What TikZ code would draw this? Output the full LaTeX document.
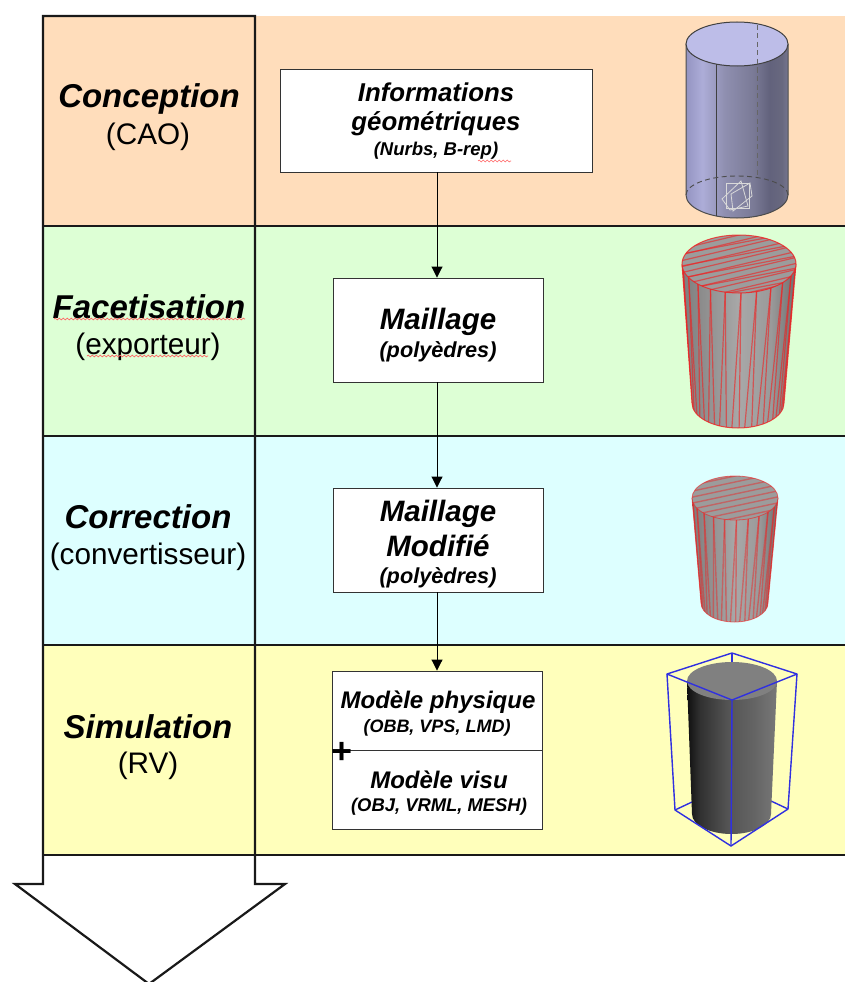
\documentclass[tikz,border=0pt]{standalone}
\usepackage{fontspec}
\setmainfont{Liberation Sans}
\usetikzlibrary{arrows.meta,decorations.pathmorphing}
\definecolor{bandA}{HTML}{FFDDBB}
\definecolor{bandB}{HTML}{DDFFD5}
\definecolor{bandC}{HTML}{DDFFFF}
\definecolor{bandD}{HTML}{FFFFBB}
\definecolor{meshred}{HTML}{F02020}
\definecolor{boxblue}{HTML}{3030E0}
\definecolor{topblue}{HTML}{BDBDE8}
\definecolor{topgrayA}{HTML}{9C9C9C}
\definecolor{topgrayB}{HTML}{9C9C9C}
\definecolor{topgrayC}{HTML}{808080}
\definecolor{ba}{HTML}{9494C2}\definecolor{bb}{HTML}{ADADD8}\definecolor{bc}{HTML}{8F8FB0}
\definecolor{bd}{HTML}{7A7A96}\definecolor{be}{HTML}{62627C}\definecolor{bf}{HTML}{68687F}\definecolor{bg}{HTML}{767690}
\definecolor{ga}{HTML}{7C7C7C}\definecolor{gb}{HTML}{8A8A8A}\definecolor{gc}{HTML}{A8A8A8}\definecolor{gd}{HTML}{9A9A9A}\definecolor{ge}{HTML}{6E6E6E}
\definecolor{da}{HTML}{0F0F0F}\definecolor{db}{HTML}{303030}\definecolor{dc}{HTML}{555555}\definecolor{dd}{HTML}{646464}\definecolor{de}{HTML}{787878}
\pgfdeclarehorizontalshading{cylblue}{100bp}{color(0bp)=(ba);color(25bp)=(ba);color(33bp)=(bb);color(44bp)=(bc);color(58bp)=(bd);color(66bp)=(be);color(72bp)=(bf);color(75bp)=(bg);color(100bp)=(bg)}
\pgfdeclarehorizontalshading{cylgray}{100bp}{color(0bp)=(ga);color(25bp)=(ga);color(32bp)=(gb);color(50bp)=(gc);color(64bp)=(gd);color(75bp)=(ge);color(100bp)=(ge)}
\pgfdeclarehorizontalshading{cyldark}{100bp}{color(0bp)=(da);color(25bp)=(da);color(32bp)=(db);color(48bp)=(dc);color(62bp)=(dd);color(75bp)=(de);color(100bp)=(de)}
\tikzset{
  x=1pt,y=-1pt,
  frameline/.style={draw=black!90,line width=2.2pt},
  stepbox/.style={draw=black!80,fill=white,line width=0.9pt,align=center,inner sep=0pt},
  flow/.style={draw=black,line width=0.9pt,-{Triangle[length=11pt,width=11pt]}},
  phase/.style={align=center,inner sep=0pt},
  squig/.style={draw=red!60,line width=0.7pt,decorate,decoration={snake,amplitude=0.9pt,segment length=4pt}},
  mesh/.style={draw=meshred,line width=1.2pt,opacity=0.6},
  meshb/.style={draw=meshred,line width=1.4pt,opacity=0.45},
}
\newcommand{\fsz}[1]{\fontsize{#1}{#1}\selectfont}
\begin{document}
\begin{tikzpicture}
\useasboundingbox (0,0) rectangle (845,982);
\fill[white] (0,0) rectangle (845,982);
% bands
\fill[bandA] (43,16) rectangle (845,226);
\fill[bandB] (43,226) rectangle (845,436);
\fill[bandC] (43,436) rectangle (845,645);
\fill[bandD] (43,645) rectangle (845,855);
% frame and big arrow
\draw[frameline,line join=miter] (255,884) -- (255,16) -- (43,16) -- (43,884) -- (15,884) -- (149,984) -- (285,884) -- cycle;
\foreach \yy in {226,436,645,855} \draw[frameline] (43,\yy) -- (845,\yy);
% phase labels
\node[phase] (p1a) at (149,99) {\fsz{33}\bfseries\itshape Conception};
\node[phase] (p1b) at (148,137) {\fsz{29.7}(CAO)};
\node[phase] (p2a) at (149,307) {\fsz{33}\bfseries\itshape Facetisation};
\node[phase] (p2b) at (148,347) {\fsz{29.7}(exporteur)};
\node[phase] (p3a) at (148,517) {\fsz{33}\bfseries\itshape Correction};
\node[phase] (p3b) at (148,557) {\fsz{29.7}(convertisseur)};
\node[phase] (p4a) at (148,727) {\fsz{33}\bfseries\itshape Simulation};
\node[phase] (p4b) at (148,766) {\fsz{29.7}(RV)};
\draw[squig] (54,319) -- (245,319);
\draw[squig] (87,356) -- (208,356);
% boxes
\node[stepbox,minimum width=312pt,minimum height=103pt] (s1) at (436,120.5) {};
\node[phase] (s1a) at (436,92) {\fsz{25.8}\bfseries\itshape Informations};
\node[phase] (s1b) at (436,124) {\fsz{25.8}\bfseries\itshape géométriques};
\node[phase] (s1c) at (436,151) {\fsz{18.5}\bfseries\itshape (Nurbs, B-rep)};
\draw[squig,line width=0.6pt] (478,161) -- (511,161);
\node[stepbox,minimum width=210pt,minimum height=104pt] (s2) at (438,330) {};
\node[phase] (s2a) at (438,322) {\fsz{29.5}\bfseries\itshape Maillage};
\node[phase] (s2b) at (438,352) {\fsz{21.7}\bfseries\itshape (polyèdres)};
\node[stepbox,minimum width=210pt,minimum height=104pt] (s3) at (438,540) {};
\node[phase] (s3a) at (438,514) {\fsz{29.5}\bfseries\itshape Maillage};
\node[phase] (s3b) at (438,546) {\fsz{29.5}\bfseries\itshape Modifié};
\node[phase] (s3c) at (438,578) {\fsz{21.7}\bfseries\itshape (polyèdres)};
\node[stepbox,minimum width=210pt,minimum height=79pt] (s4) at (437,710.5) {};
\node[stepbox,minimum width=210pt,minimum height=79pt] (s5) at (437,789.5) {};
\node[phase] (s4a) at (438,702) {\fsz{24}\bfseries\itshape Modèle physique};
\node[phase] (s4b) at (437,728) {\fsz{18}\bfseries\itshape (OBB, VPS, LMD)};
\node[phase] (s5a) at (439,780) {\fsz{24}\bfseries\itshape Modèle visu};
\node[phase] (s5b) at (439,807) {\fsz{18.4}\bfseries\itshape (OBJ, VRML, MESH)};
\node[inner sep=0pt] (plus) at (342,753) {\fsz{36}\bfseries +};
% connectors
\coordinate (ax) at (437,0);
\draw[flow] (s1.south -| ax) -- (s2.north -| ax);
\draw[flow] (s2.south -| ax) -- (s3.north -| ax);
\draw[flow] (s3.south -| ax) -- (s4.north -| ax);
% cylinder 1 (CAD)
\shade[shading=cylblue] (686,44) -- (686,195) arc[start angle=180,end angle=360,x radius=51pt,y radius=23pt] -- (788,44) -- cycle;
\draw[black!70,line width=1pt] (686,44) -- (686,195) arc[start angle=180,end angle=360,x radius=51pt,y radius=23pt] -- (788,44);
\fill[topblue,draw=black!75,line width=1pt] (737,44) ellipse[x radius=51pt,y radius=22pt];
\draw[black!75,line width=1pt] (716,64) -- (716,216);
\draw[black!60,line width=1pt,dash pattern=on 5pt off 3.5pt] (757,25) -- (757,176);
\draw[black!70,line width=0.9pt,dash pattern=on 5pt off 3.5pt] (686,195) arc[start angle=180,end angle=0,x radius=51pt,y radius=19pt];
\draw[white!85!black,line width=0.8pt] (726,183) -- (749,183) -- (749,208) -- (726,208) -- cycle;
\draw[white!85!black,line width=0.8pt] (731,194) -- (750,183) -- (752,196) -- (733,211) -- cycle;
\draw[white!85!black,line width=0.8pt] (722,199) -- (741,181) -- (748,206) -- (730,210) -- cycle;
% cylinder 2 (mesh)
\shade[shading=cylgray] (682,264) -- (692,403) arc[start angle=180,end angle=360,x radius=46pt,y radius=25pt] -- (796,264) -- cycle;
\begin{scope}
\clip (682,264) -- (692,403) arc[start angle=180,end angle=360,x radius=46pt,y radius=25pt] -- (796,264) -- cycle;
\foreach \a in {8,24,...,176} {
  \draw[mesh] ({739+57*cos(\a)},{264+29*sin(\a)}) -- ({737.5+46*cos(\a)},{403+25*sin(\a)});
  \draw[mesh] ({739+57*cos(\a)},{264+29*sin(\a)}) -- ({737.5+46*cos(\a+9)},{403+25*sin(\a+9)});
}
\end{scope}
\draw[meshred,line width=1pt,opacity=0.8] (682,264) -- (692,403) arc[start angle=180,end angle=360,x radius=46pt,y radius=25pt] -- (796,264);
\fill[topgrayA] (739,264) ellipse[x radius=57pt,y radius=29pt];
\begin{scope}
\clip (739,264) ellipse[x radius=57pt,y radius=29pt];
\foreach \q in {-36,-30,...,36} \draw[mesh] (676,{280+\q}) -- (802,{250+\q});
\foreach \q in {-33,-21,...,33} \draw[mesh] (676,{276+\q}) -- (802,{252+\q});
\end{scope}
\draw[meshred,line width=1pt,opacity=0.8] (739,264) ellipse[x radius=57pt,y radius=29pt];
% cylinder 3 (modified mesh)
\shade[shading=cylgray] (692,498) -- (701,603) arc[start angle=180,end angle=360,x radius=33.5pt,y radius=19pt] -- (778,498) -- cycle;
\begin{scope}
\clip (692,498) -- (701,603) arc[start angle=180,end angle=360,x radius=33.5pt,y radius=19pt] -- (778,498) -- cycle;
\foreach \a in {8,24,...,176} {
  \draw[meshb] ({735+43*cos(\a)},{498+22*sin(\a)}) -- ({734.5+33.5*cos(\a)},{603+19*sin(\a)});
  \draw[meshb] ({735+43*cos(\a)},{498+22*sin(\a)}) -- ({734.5+33.5*cos(\a+9)},{603+19*sin(\a+9)});
}
\end{scope}
\draw[meshred,line width=0.8pt,opacity=0.6] (692,498) -- (701,603) arc[start angle=180,end angle=360,x radius=33.5pt,y radius=19pt] -- (778,498);
\fill[topgrayB] (735,498) ellipse[x radius=43pt,y radius=22pt];
\begin{scope}
\clip (735,498) ellipse[x radius=43pt,y radius=22pt];
\foreach \q in {-28,-22,...,28} \draw[meshb] (688,{508+\q}) -- (782,{488+\q});
\end{scope}
\draw[meshred,line width=0.8pt,opacity=0.6] (735,498) ellipse[x radius=43pt,y radius=22pt];
% cylinder 4 (bounding box)
\draw[boxblue,line width=1.4pt] (675,810) -- (692,802);
\draw[boxblue,line width=1.4pt] (788,809) -- (771,801);
\shade[shading=cyldark] (687,681) -- (692,814) arc[start angle=180,end angle=360,x radius=39.5pt,y radius=20pt] -- (777,681) -- cycle;
\fill[topgrayC] (732,681) ellipse[x radius=45pt,y radius=19pt];
\draw[boxblue,line width=1.4pt,line join=round] (732,653) -- (797,674) -- (732,700) -- (667,674) -- cycle;
\draw[boxblue,line width=1.4pt] (732,653) -- (732,662);
\draw[boxblue,line width=1.4pt,line join=round] (667,674) -- (675,810) -- (731,846) -- (788,809) -- (797,674);
\draw[boxblue,line width=1.4pt] (732,700) -- (731,846);
\end{tikzpicture}
\end{document}
